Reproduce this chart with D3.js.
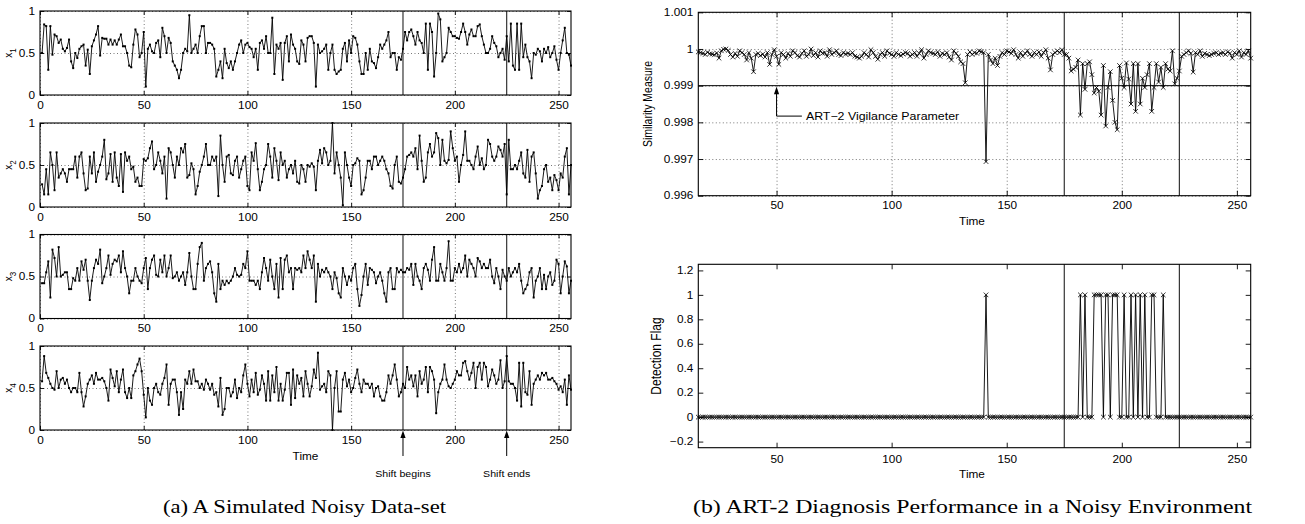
<!DOCTYPE html>
<html>
<head>
<meta charset="utf-8">
<script src="https://cdn.jsdelivr.net/npm/d3@7"></script>
<style>
  body { margin: 0; background: #fff; }
  svg text { font-family: "Liberation Sans", Arial, sans-serif; fill: #000; }
  .grid line { stroke: #555; stroke-dasharray: 1,2.5; stroke-width: 0.8; }
  .grid path { display: none; }
  .ticks line { stroke: #000; stroke-width: 0.9; }
  .ticks path { display: none; }
</style>
</head>
<body>
<div id="chart"></div>
<script>
// ---- data ----
var x1 = [
  .50,.84,.82,.30,.82,.48,.72,.70,.62,.66, .55,.52,.56,.66,.40,.32,.50,.44,.55,.58,
  .60,.35,.54,.25,.58,.65,.72,.82,.47,.68, .67,.67,.60,.66,.60,.65,.60,.66,.72,.58,
  .58,.50,.35,.33,.60,.78,.72,.45,.50,.75, .10,.55,.60,.52,.50,.62,.65,.45,.80,.70,
  .50,.68,.62,.40,.35,.30,.20,.30,.50,.55, .52,.95,.50,.55,.60,.50,.70,.82,.82,.50,
  .62,.62,.60,.55,.22,.30,.40,.20,.55,.38, .32,.40,.30,.40,.50,.60,.65,.50,.60,.62,
  .57,.55,.45,.55,.30,.62,.65,.55,.70,.50, .50,.92,.25,.60,.55,.62,.18,.62,.70,.40,
  .72,.60,.55,.40,.37,.65,.60,.40,.68,.70, .70,.62,.10,.60,.50,.52,.55,.60,.30,.50,
  .60,.30,.25,.28,.30,.55,.62,.40,.65,.50, .70,.68,.60,.40,.25,.25,.50,.30,.55,.40,
  .38,.32,.45,.60,.55,.60,.65,.75,.45,.50, .50,.30,.45,.42,.55,.75,.65,.75,.78,.70,
  .60,.75,.65,.62,.50,.85,.30,.85,.75,.22, .50,.97,.90,.40,.45,.50,.80,.75,.70,.70,
  .68,.67,.75,.85,.75,.60,.72,.78,.70,.70, .82,.84,.70,.60,.50,.50,.55,.70,.62,.58,
  .45,.50,.55,.42,.70,.40,.85,.35,.30,.85, .30,.85,.45,.60,.45,.40,.20,.50,.48,.55,
  .52,.40,.55,.50,.57,.45,.50,.58,.42,.30, .50,.65,.80,.50,.48,.35
];
var x2 = [
  .27,.15,.45,.15,.65,.50,.20,.65,.35,.40, .45,.40,.30,.45,.45,.45,.60,.35,.60,.65,
  .40,.20,.22,.60,.40,.65,.30,.42,.50,.60, .80,.33,.40,.63,.30,.65,.35,.25,.63,.18,
  .65,.55,.60,.45,.48,.30,.35,.25,.25,.57, .55,.58,.70,.78,.45,.50,.65,.55,.40,.60,
  .10,.70,.65,.50,.35,.60,.50,.70,.65,.75, .35,.38,.52,.45,.15,.25,.42,.50,.60,.75,
  .50,.50,.60,.55,.60,.13,.85,.50,.30,.60, .62,.40,.38,.55,.60,.35,.45,.55,.60,.25,
  .20,.65,.55,.76,.45,.20,.30,.45,.50,.75, .60,.35,.70,.55,.32,.65,.50,.55,.35,.45,
  .50,.40,.55,.30,.28,.50,.45,.30,.50,.48, .52,.48,.20,.55,.68,.52,.70,.65,.50,.55,
  1.0,.40,.65,.50,.35,.02,.65,.50,.35,.25, .50,.52,.58,.55,.15,.20,.35,.55,.55,.45,
  .60,.60,.50,.55,.60,.55,.45,.40,.25,.22, .50,.60,.30,.28,.35,.45,.60,.62,.65,.60,
  .70,.45,.85,.55,.30,.35,.65,.75,.60,.65, .88,.82,.50,.80,.55,.52,.56,.90,.70,.55,
  .60,.30,.50,.62,.90,.55,.55,.50,.45,.60, .72,.50,.58,.45,.50,.80,.75,.60,.55,.60,
  .72,.68,.60,.75,.15,.80,.45,.45,.50,.45, .55,.65,.40,.35,.68,.30,.60,.65,.40,.10,
  .20,.25,.45,.50,.30,.35,.20,.38,.32,.20, .40,.35,.60,.70,.15,.50
];
var x3 = [
  .42,.42,.55,.68,.25,.82,.72,.50,.85,.50, .52,.55,.55,.35,.35,.48,.45,.60,.45,.68,
  .58,.70,.45,.22,.45,.60,.70,.65,.82,.42, .50,.60,.75,.52,.65,.70,.68,.75,.55,.80,
  .60,.50,.30,.45,.45,.60,.50,.45,.42,.60, .72,.35,.60,.70,.75,.52,.50,.70,.55,.75,
  .50,.60,.75,.48,.50,.55,.45,.50,.55,.40, .55,.78,.50,.35,.35,.65,.85,.90,.45,.60,
  .65,.68,.55,.30,.20,.65,.35,.45,.40,.45, .42,.45,.50,.60,.52,.50,.52,.65,.60,.80,
  .45,.45,.45,.40,.45,.35,.55,.72,.60,.45, .70,.50,.35,.65,.25,.72,.35,.70,.75,.55,
  .60,.35,.60,.58,.60,.55,.75,.60,.80,.70, .60,.75,.20,.65,.50,.58,.55,.60,.55,.50,
  .35,.55,.48,.30,.25,.60,.50,.40,.50,.45, .60,.65,.35,.15,.28,.50,.65,.40,.60,.58,
  .55,.42,.50,.55,.45,.30,.20,.55,.60,.35, .35,.60,.55,.58,.55,.55,.60,.58,.65,.40,
  .65,.50,.45,.35,.60,.65,.58,.45,.70,.85, .45,.45,.65,.55,.45,.60,.92,.45,.45,.60,
  .55,.65,.55,.60,.75,.50,.70,.65,.60,.50, .72,.68,.60,.65,.60,.60,.70,.50,.42,.60,
  .50,.35,.58,.50,.45,.60,.50,.55,.60,.55, .65,.45,.30,.35,.40,.55,.60,.25,.45,.50,
  .60,.35,.52,.35,.50,.55,.40,.45,.70,.65, .30,.50,.68,.62,.30,.45
];
var x4 = [
  .58,.88,.68,.62,.55,.50,.48,.70,.50,.60, .62,.55,.60,.50,.45,.50,.50,.45,.68,.45,
  .28,.40,.55,.60,.65,.55,.68,.60,.60,.62, .58,.50,.35,.72,.62,.52,.70,.45,.60,.72,
  .45,.38,.50,.38,.65,.70,.78,.85,.70,.42, .15,.50,.35,.30,.50,.55,.45,.42,.55,.62,
  .78,.30,.55,.60,.60,.45,.18,.45,.25,.60, .55,.70,.55,.72,.58,.58,.50,.55,.48,.60,
  .55,.48,.55,.42,.45,.28,.62,.18,.25,.50, .50,.40,.45,.60,.38,.50,.45,.65,.78,.55,
  .40,.60,.45,.68,.42,.48,.65,.55,.35,.70, .35,.65,.45,.75,.35,.55,.35,.48,.68,.68,
  .30,.72,.38,.65,.55,.62,.40,.70,.55,.40, .52,.72,.62,.92,.48,.52,.55,.45,.70,.65,
  .00,.50,.70,.22,.22,.60,.68,.52,.60,.45, .50,.62,.72,.55,.45,.60,.55,.55,.50,.55,
  .40,.50,.52,.40,.35,.35,.45,.65,.55,.65, .78,.60,.40,.45,.55,.50,.75,.60,.65,.52,
  .65,.40,.70,.55,.60,.75,.45,.75,.70,.60, .20,.45,.55,.60,.78,.60,.52,.50,.55,.60,
  .70,.65,.65,.80,.82,.70,.60,.68,.80,.50, .75,.80,.60,.80,.75,.52,.60,.72,.65,.55,
  .60,.83,.50,.58,.88,.58,.55,.55,.50,.35, .80,.28,.80,.45,.42,.70,.30,.55,.60,.65,
  .60,.68,.65,.68,.60,.60,.62,.58,.55,.48, .52,.45,.60,.30,.65,.48
];
var seriesNames = ['1', '2', '3', '4'];

// similarity measure, one value per time step starting at simStart
var simStart = 16;
var similarity = [
  .99992,.99990,.99988,.99985,.99991,.99987,.99986,.99984,.99989,.99975,
  .99995,.99999,1.00000,.99996,.99985,.99978,.99988,.99980,.99995,.99990,
  .99985,.99970,.99990,.99975,.99938,.99985,.99988,.99982,.99986,.99978,
  .99990,.99958,.99985,.99998,.99980,.99958,.99990,.99985,.99975,.99988,
  .99980,.99995,.99990,.99982,.99978,.99988,.99995,.99980,.99985,1.00000,
  .99982,.99990,.99978,.99995,.99988,.99990,.99980,.99998,.99985,.99990,
  .99995,.99985,.99982,.99990,.99986,.99988,.99985,.99990,.99980,.99978,
  .99975,.99980,.99990,.99985,.99978,.99998,.99990,.99980,.99972,.99985,
  .99990,.99980,.99995,.99988,.99985,.99980,.99990,.99985,.99982,.99986,
  .99990,.99988,.99980,.99985,.99990,.99980,.99988,.99998,.99975,.99985,
  .99995,.99990,.99988,.99985,.99992,.99980,.99988,.99985,.99990,.99978,
  .99970,.99995,.99988,.99980,.99965,.99960,.99908,.99985,.99992,.99985,
  .99990,.99988,.99995,.99992,.99990,.99693,.99985,.99970,.99960,.99975,
  .99955,.99980,.99990,.99985,.99995,.99992,.99988,.99998,.99985,.99975,
  .99990,.99980,.99988,.99995,.99985,.99980,.99990,.99985,.99992,.99980,
  .99990,.99998,.99975,.99943,.99985,.99990,.99995,.99990,.99998,.99985,
  .99985,.99975,.99940,.99945,.99950,.99970,.99820,.99960,.99890,.99960,
  .99965,.99930,.99880,.99895,.99885,.99820,.99955,.99790,.99895,.99938,
  .99860,.99800,.99780,.99955,.99920,.99895,.99962,.99918,.99850,.99960,
  .99830,.99960,.99850,.99920,.99895,.99930,.99960,.99830,.99895,.99960,
  .99910,.99950,.99895,.99960,.99945,.99940,.99995,.99905,.99920,.99940,
  .99980,
  .99985,.99990,.99995,.99988,.99937,.99990,.99985,.99995,.99980,.99988,
  .99985,.99982,.99985,.99988,.99990,.99985,.99988,.99990,.99985,.99992,
  .99988,.99975,.99990,.99985,.99995,.99978,.99990,.99985,.99995,.99975
];
// time steps where the detection flag is raised
var flagTimes = [141, 182, 184, 188, 189, 190, 191, 193, 194, 196, 197, 198,
  201, 204, 206, 208, 210, 213, 214, 218];

var shiftTimes = [175, 225];
var shiftLabels = ['Shift begins', 'Shift ends'];
var vigilance = 0.999;

var xTicksLeft = [0, 50, 100, 150, 200, 250];
var yTicksLeft = [0, 0.5, 1];
var yTickLabelsLeft = ['0', '0.5', '1'];
var xTicksRight = [50, 100, 150, 200, 250];
var simTicks = [0.996, 0.997, 0.998, 0.999, 1, 1.001];
var simTickLabels = ['0.996', '0.997', '0.998', '0.999', '1', '1.001'];
var flagTicks = [-0.2, 0, 0.2, 0.4, 0.6, 0.8, 1, 1.2];
var flagTickLabels = ['\u22120.2', '0', '0.2', '0.4', '0.6', '0.8', '1', '1.2'];

// ---- drawing ----
var SX = 1.18; // the figure is stretched a little horizontally
var svg = d3.select('#chart').append('svg')
  .attr('width', 1305)
  .attr('height', 524);

function label(x, y, txt, anchor, rotate, size) {
  return svg.append('text')
    .attr('transform', 'translate(' + x + ',' + y + ') scale(' + SX + ',1)' + (rotate ? ' rotate(-90)' : ''))
    .attr('text-anchor', anchor || 'middle')
    .attr('font-size', size || 10)
    .text(txt);
}

function styleAxis(g) {
  g.attr('class', 'ticks')
    .attr('font-family', null)
    .attr('font-size', 10);
  g.selectAll('text').attr('transform', 'scale(' + SX + ',1)');
}

function arrowHead(x, y) {
  svg.append('path')
    .attr('d', 'M' + x + ',' + y + 'l-2.6,7.5h5.2z')
    .attr('fill', '#000');
}

var cross = 'M-2.3,-2.3L2.3,2.3M-2.3,2.3L2.3,-2.3';

// left column: four noisy inputs
var leftX = d3.scaleLinear().domain([0, 256]).range([40, 571]);
var leftW = 531;
var panelH = 84;
var leftTops = [11, 123, 234.5, 346];
var leftSeries = [x1, x2, x3, x4];

leftSeries.forEach(function (vals, i) {
  var top = leftTops[i];
  var bottom = top + panelH;
  var y = d3.scaleLinear().domain([0, 1]).range([bottom, top]);
  var g = svg.append('g');

  g.append('g').attr('class', 'grid')
    .attr('transform', 'translate(0,' + bottom + ')')
    .call(d3.axisBottom(leftX).tickValues(xTicksLeft).tickSize(-panelH).tickFormat(''));
  g.append('g').attr('class', 'grid')
    .attr('transform', 'translate(40,0)')
    .call(d3.axisLeft(y).tickValues(yTicksLeft).tickSize(-leftW).tickFormat(''));

  g.selectAll('.shift').data(shiftTimes).enter().append('line')
    .attr('x1', function (d) { return leftX(d); })
    .attr('x2', function (d) { return leftX(d); })
    .attr('y1', top).attr('y2', bottom)
    .attr('stroke', '#222').attr('stroke-width', 1.1);

  var line = d3.line()
    .x(function (_, j) { return leftX(j + 1); })
    .y(function (d) { return y(d); });
  g.append('path').datum(vals)
    .attr('d', line)
    .attr('fill', 'none')
    .attr('stroke', '#000')
    .attr('stroke-width', 0.9);
  g.selectAll('.dot').data(vals).enter().append('rect')
    .attr('x', function (_, j) { return leftX(j + 1) - 1; })
    .attr('y', function (d) { return y(d) - 1; })
    .attr('width', 2).attr('height', 2)
    .attr('fill', '#000');

  g.append('g').attr('transform', 'translate(0,' + bottom + ')')
    .call(d3.axisBottom(leftX).tickValues(xTicksLeft).tickSize(-4).tickPadding(6.5))
    .call(styleAxis);
  g.append('g').attr('transform', 'translate(0,' + top + ')')
    .call(d3.axisTop(leftX).tickValues(xTicksLeft).tickSize(-4).tickFormat(''))
    .call(styleAxis);
  g.append('g').attr('transform', 'translate(40,0)')
    .call(d3.axisLeft(y).tickValues(yTicksLeft).tickSize(-4).tickPadding(4.2)
      .tickFormat(function (_, j) { return yTickLabelsLeft[j]; }))
    .call(styleAxis);
  g.append('g').attr('transform', 'translate(571,0)')
    .call(d3.axisRight(y).tickValues(yTicksLeft).tickSize(-4).tickFormat(''))
    .call(styleAxis);

  g.append('rect')
    .attr('x', 40).attr('y', top).attr('width', leftW).attr('height', panelH)
    .attr('fill', 'none').attr('stroke', '#000').attr('stroke-width', 1.1);

  var yl = label(12, (top + bottom) / 2, '', 'middle', true, 10);
  yl.append('tspan').text('x');
  yl.append('tspan').attr('font-size', 8).attr('dy', 3).text(seriesNames[i]);
});

label(leftX(128), 460, 'Time', 'middle', false, 10);
shiftTimes.forEach(function (t, k) {
  var px = leftX(t);
  svg.append('line')
    .attr('x1', px).attr('x2', px)
    .attr('y1', 456).attr('y2', 436)
    .attr('stroke', '#000').attr('stroke-width', 1);
  arrowHead(px, 430.5);
  label(px, 477, shiftLabels[k], 'middle', false, 9);
});

// right column
var rightX = d3.scaleLinear().domain([16, 256]).range([698.3, 1250.7]);
var rightW = 1250.7 - 698.3;
var rH = 183.4;
var simTop = 12.3, simBottom = simTop + rH;
var flagTop = 264.3, flagBottom = flagTop + rH;
var simY = d3.scaleLinear().domain([0.996, 1.001]).range([simBottom, simTop]);
var flagY = d3.scaleLinear().domain([-0.25, 1.25]).range([flagBottom, flagTop]);

var times = similarity.map(function (_, j) { return simStart + j; });
var flags = times.map(function (t) { return flagTimes.indexOf(t) >= 0 ? 1 : 0; });

function rightPanel(top, bottom, y, ticks, tickLabels, vals, grid, padX, extra) {
  var g = svg.append('g');
  if (grid) {
    g.append('g').attr('class', 'grid')
      .attr('transform', 'translate(0,' + bottom + ')')
      .call(d3.axisBottom(rightX).tickValues(xTicksRight).tickSize(-(bottom - top)).tickFormat(''));
    g.append('g').attr('class', 'grid')
      .attr('transform', 'translate(698.3,0)')
      .call(d3.axisLeft(y).tickValues(ticks).tickSize(-rightW).tickFormat(''));
  }
  g.selectAll('.shift').data(shiftTimes).enter().append('line')
    .attr('x1', function (d) { return rightX(d); })
    .attr('x2', function (d) { return rightX(d); })
    .attr('y1', top).attr('y2', bottom)
    .attr('stroke', '#222').attr('stroke-width', 1.1);
  if (extra) extra(g);

  var line = d3.line()
    .x(function (_, j) { return rightX(times[j]); })
    .y(function (d) { return y(d); });
  g.append('path').datum(vals)
    .attr('d', line)
    .attr('fill', 'none')
    .attr('stroke', '#000')
    .attr('stroke-width', 0.9);
  g.selectAll('.mark').data(vals).enter().append('path')
    .attr('d', cross)
    .attr('transform', function (d, j) { return 'translate(' + rightX(times[j]) + ',' + y(d) + ')'; })
    .attr('fill', 'none')
    .attr('stroke', '#000')
    .attr('stroke-width', 0.8);

  g.append('g').attr('transform', 'translate(0,' + bottom + ')')
    .call(d3.axisBottom(rightX).tickValues(xTicksRight).tickSize(-5).tickPadding(padX))
    .call(styleAxis);
  g.append('g').attr('transform', 'translate(0,' + top + ')')
    .call(d3.axisTop(rightX).tickValues(xTicksRight).tickSize(-5).tickFormat(''))
    .call(styleAxis);
  g.append('g').attr('transform', 'translate(698.3,0)')
    .call(d3.axisLeft(y).tickValues(ticks).tickSize(-5).tickPadding(4.2)
      .tickFormat(function (_, j) { return tickLabels[j]; }))
    .call(styleAxis);
  g.append('g').attr('transform', 'translate(1250.7,0)')
    .call(d3.axisRight(y).tickValues(ticks).tickSize(-5).tickFormat(''))
    .call(styleAxis);
  g.append('rect')
    .attr('x', 698.3).attr('y', top).attr('width', rightW).attr('height', bottom - top)
    .attr('fill', 'none').attr('stroke', '#000').attr('stroke-width', 1.1);
  return g;
}

rightPanel(simTop, simBottom, simY, simTicks, simTickLabels, similarity, true, 6, function (g) {
  g.append('line')
    .attr('x1', 698.3).attr('x2', 1250.7)
    .attr('y1', simY(vigilance)).attr('y2', simY(vigilance))
    .attr('stroke', '#000').attr('stroke-width', 1);
});

rightPanel(flagTop, flagBottom, flagY, flagTicks, flagTickLabels, flags, false, 8.5);

// vigilance annotation
var annoX = [50, 61];
var annoY = 0.99817;
svg.append('path')
  .attr('d', 'M' + rightX(annoX[0]) + ',' + (simY(vigilance) + 6) +
    'V' + simY(annoY) + 'H' + rightX(annoX[1]))
  .attr('fill', 'none').attr('stroke', '#000').attr('stroke-width', 1);
arrowHead(rightX(annoX[0]), simY(vigilance) + 1);
label(rightX(annoX[1]) + 4, simY(annoY) + 3.8, 'ART\u22122 Vigilance Parameter', 'start', false, 10.5);

label(652, (simTop + simBottom) / 2, 'Similarity Measure', 'middle', true, 10.5);
label(661, (flagTop + flagBottom) / 2, 'Detection Flag', 'middle', true, 12);
label(972, 225, 'Time', 'middle', false, 10);
label(972, 478, 'Time', 'middle', false, 10);

// captions
svg.append('text')
  .attr('x', 163).attr('y', 513)
  .attr('textLength', 283).attr('lengthAdjust', 'spacingAndGlyphs')
  .style('font-family', '"Liberation Serif", "Times New Roman", serif')
  .attr('font-size', 19)
  .text('(a) A Simulated Noisy Data-set');
svg.append('text')
  .attr('x', 693).attr('y', 513)
  .attr('textLength', 559).attr('lengthAdjust', 'spacingAndGlyphs')
  .style('font-family', '"Liberation Serif", "Times New Roman", serif')
  .attr('font-size', 19)
  .text('(b) ART-2 Diagnosis Performance in a Noisy Environment');
</script>
</body>
</html>
